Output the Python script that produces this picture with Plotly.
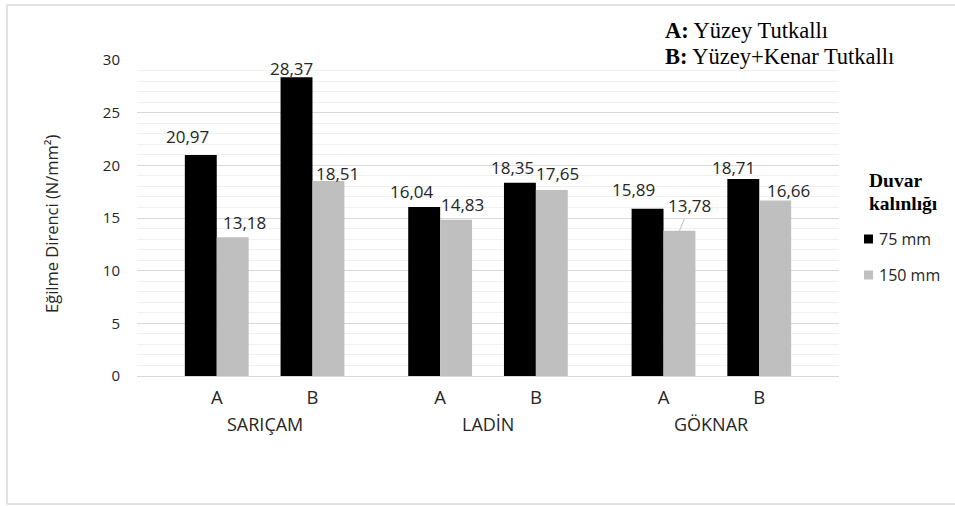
import plotly.graph_objects as go

# ---- data ----
groups = ["SARIÇAM", "LADİN", "GÖKNAR"]
subgroups = ["A", "B"]
series_names = ["75 mm", "150 mm"]
values_75 = [20.97, 28.37, 16.04, 18.35, 15.89, 18.71]
values_150 = [13.18, 18.51, 14.83, 17.65, 13.78, 16.66]
y_title = "Eğilme Direnci (N/mm²)"
legend_title = ["Duvar", "kalınlığı"]
note_lines = [("A:", " Yüzey Tutkallı"), ("B:", " Yüzey+Kenar Tutkallı")]

# ---- styling / layout ----
W, H = 955, 506
ML, MR, MT, MB = 137, 116, 60, 130
PW, PH = W - ML - MR, H - MT - MB
GROUP_STEP = 7 / 3
COLORS = ["#000000", "#bfbfbf"]
TXT = "#262626"
SANS = "Open Sans"
SERIF = "Liberation Serif"

# pixel nudges of the value labels relative to each bar top (x, y)
label_shift_75 = [(-13, 19), (-5, 9), (-12, 16), (-7, 15), (-14, 19), (-10, 11)]
label_shift_150 = [(12, 15), (9, 8), (6, 15), (6, 17), (10, 25), (13, 10)]
callout_index_150 = 4  # label drawn with a leader line


def px(xp, yp):
    """Pixel position on the page -> paper coordinates."""
    return (xp - ML) / PW, (H - MB - yp) / PH


xpos = [g * GROUP_STEP + s for g in range(len(groups)) for s in range(len(subgroups))]
ticktext = [subgroups[s] for g in range(len(groups)) for s in range(len(subgroups))]


def fmt(v):
    return f"{v:.2f}".replace(".", ",")


fig = go.Figure()
for name, vals, col in zip(series_names, [values_75, values_150], COLORS):
    fig.add_trace(go.Bar(x=xpos, y=vals, name=name, marker=dict(color=col, line=dict(width=0)),
                         showlegend=False))

annotations = []
bar_half = 1 / 6
label_font = dict(family=SANS, size=17, color=TXT)
for i, (x, v) in enumerate(zip(xpos, values_75)):
    dx, dy = label_shift_75[i]
    annotations.append(dict(x=x - bar_half, y=v, text=fmt(v), showarrow=False,
                            xshift=dx, yshift=dy, xanchor="center", yanchor="middle",
                            font=label_font))
for i, (x, v) in enumerate(zip(xpos, values_150)):
    dx, dy = label_shift_150[i]
    if i == callout_index_150:
        annotations.append(dict(x=x + bar_half, y=v, text=fmt(v), showarrow=True,
                                ax=dx, ay=-dy, arrowhead=0, arrowwidth=1, arrowcolor="#bfbfbf",
                                standoff=0, xanchor="center", yanchor="middle",
                                font=label_font))
    else:
        annotations.append(dict(x=x + bar_half, y=v, text=fmt(v), showarrow=False,
                                xshift=dx, yshift=dy, xanchor="center", yanchor="middle",
                                font=label_font))

# group names under the A/B ticks
for g, name in enumerate(groups):
    annotations.append(dict(x=g * GROUP_STEP + 0.5, y=px(0, 424)[1], xref="x", yref="paper",
                            text=name, showarrow=False, xanchor="center", yanchor="middle",
                            font=dict(family=SANS, size=18, color=TXT)))

# y axis title
tx, ty = px(51, 224)
annotations.append(dict(x=tx, y=ty, xref="paper", yref="paper", text=y_title, textangle=-90,
                        showarrow=False, xanchor="center", yanchor="middle",
                        font=dict(family=SANS, size=16.5, color=TXT)))

# A/B explanation at top right
for (bold, rest), yc in zip(note_lines, [31, 57]):
    nx, ny = px(663, yc)
    annotations.append(dict(x=nx, y=ny, xref="paper", yref="paper",
                            text=f"<b>{bold}</b>{rest}", showarrow=False,
                            xanchor="left", yanchor="middle",
                            font=dict(family=SERIF, size=22.5, color="#000000")))

# legend block
for line, yc in zip(legend_title, [180, 203]):
    lx, ly = px(867, yc)
    annotations.append(dict(x=lx, y=ly, xref="paper", yref="paper", text=f"<b>{line}</b>",
                            showarrow=False, xanchor="left", yanchor="middle",
                            font=dict(family=SERIF, size=19.5, color="#000000")))

shapes = []
for name, col, yc in zip(series_names, COLORS, [239, 275]):
    x0, y0 = px(864, yc + 4.5)
    x1, y1 = px(873, yc - 4.5)
    shapes.append(dict(type="rect", xref="paper", yref="paper", x0=x0, y0=y0, x1=x1, y1=y1,
                       fillcolor=col, line=dict(width=0)))
    lx, ly = px(877, yc)
    annotations.append(dict(x=lx, y=ly, xref="paper", yref="paper", text=name,
                            showarrow=False, xanchor="left", yanchor="middle",
                            font=dict(family=SANS, size=16, color=TXT)))

# outer chart frame
fx0, fy0 = px(7, 504)
fx1, fy1 = px(962, 5)
shapes.append(dict(type="rect", xref="paper", yref="paper", x0=fx0, y0=fy0, x1=fx1, y1=fy1,
                   line=dict(color="#d9d9d9", width=1.5), fillcolor="rgba(0,0,0,0)", layer="below"))

fig.update_layout(
    width=W, height=H,
    margin=dict(l=ML, r=MR, t=MT, b=MB),
    paper_bgcolor="white", plot_bgcolor="white",
    barmode="group", bargap=1 / 3, bargroupgap=0,
    annotations=annotations, shapes=shapes,
    xaxis=dict(range=[-0.833, (len(groups) - 1) * GROUP_STEP + 1 + 0.833],
               tickvals=xpos, ticktext=ticktext, showgrid=False, zeroline=False,
               showline=True, linecolor="#d9d9d9", linewidth=1, ticks="",
               ticklabelstandoff=5,
               tickfont=dict(family=SANS, size=18.5, color=TXT), fixedrange=True),
    yaxis=dict(range=[0, 30], dtick=5, tick0=0, showgrid=True, gridcolor="#d9d9d9", gridwidth=1,
               minor=dict(dtick=1, showgrid=True, gridcolor="#f0f0f0", gridwidth=1),
               zeroline=False, showline=False, ticks="", ticklabelstandoff=16,
               tickfont=dict(family=SANS, size=15, color=TXT), fixedrange=True),
)

fig.write_html("out.html")
